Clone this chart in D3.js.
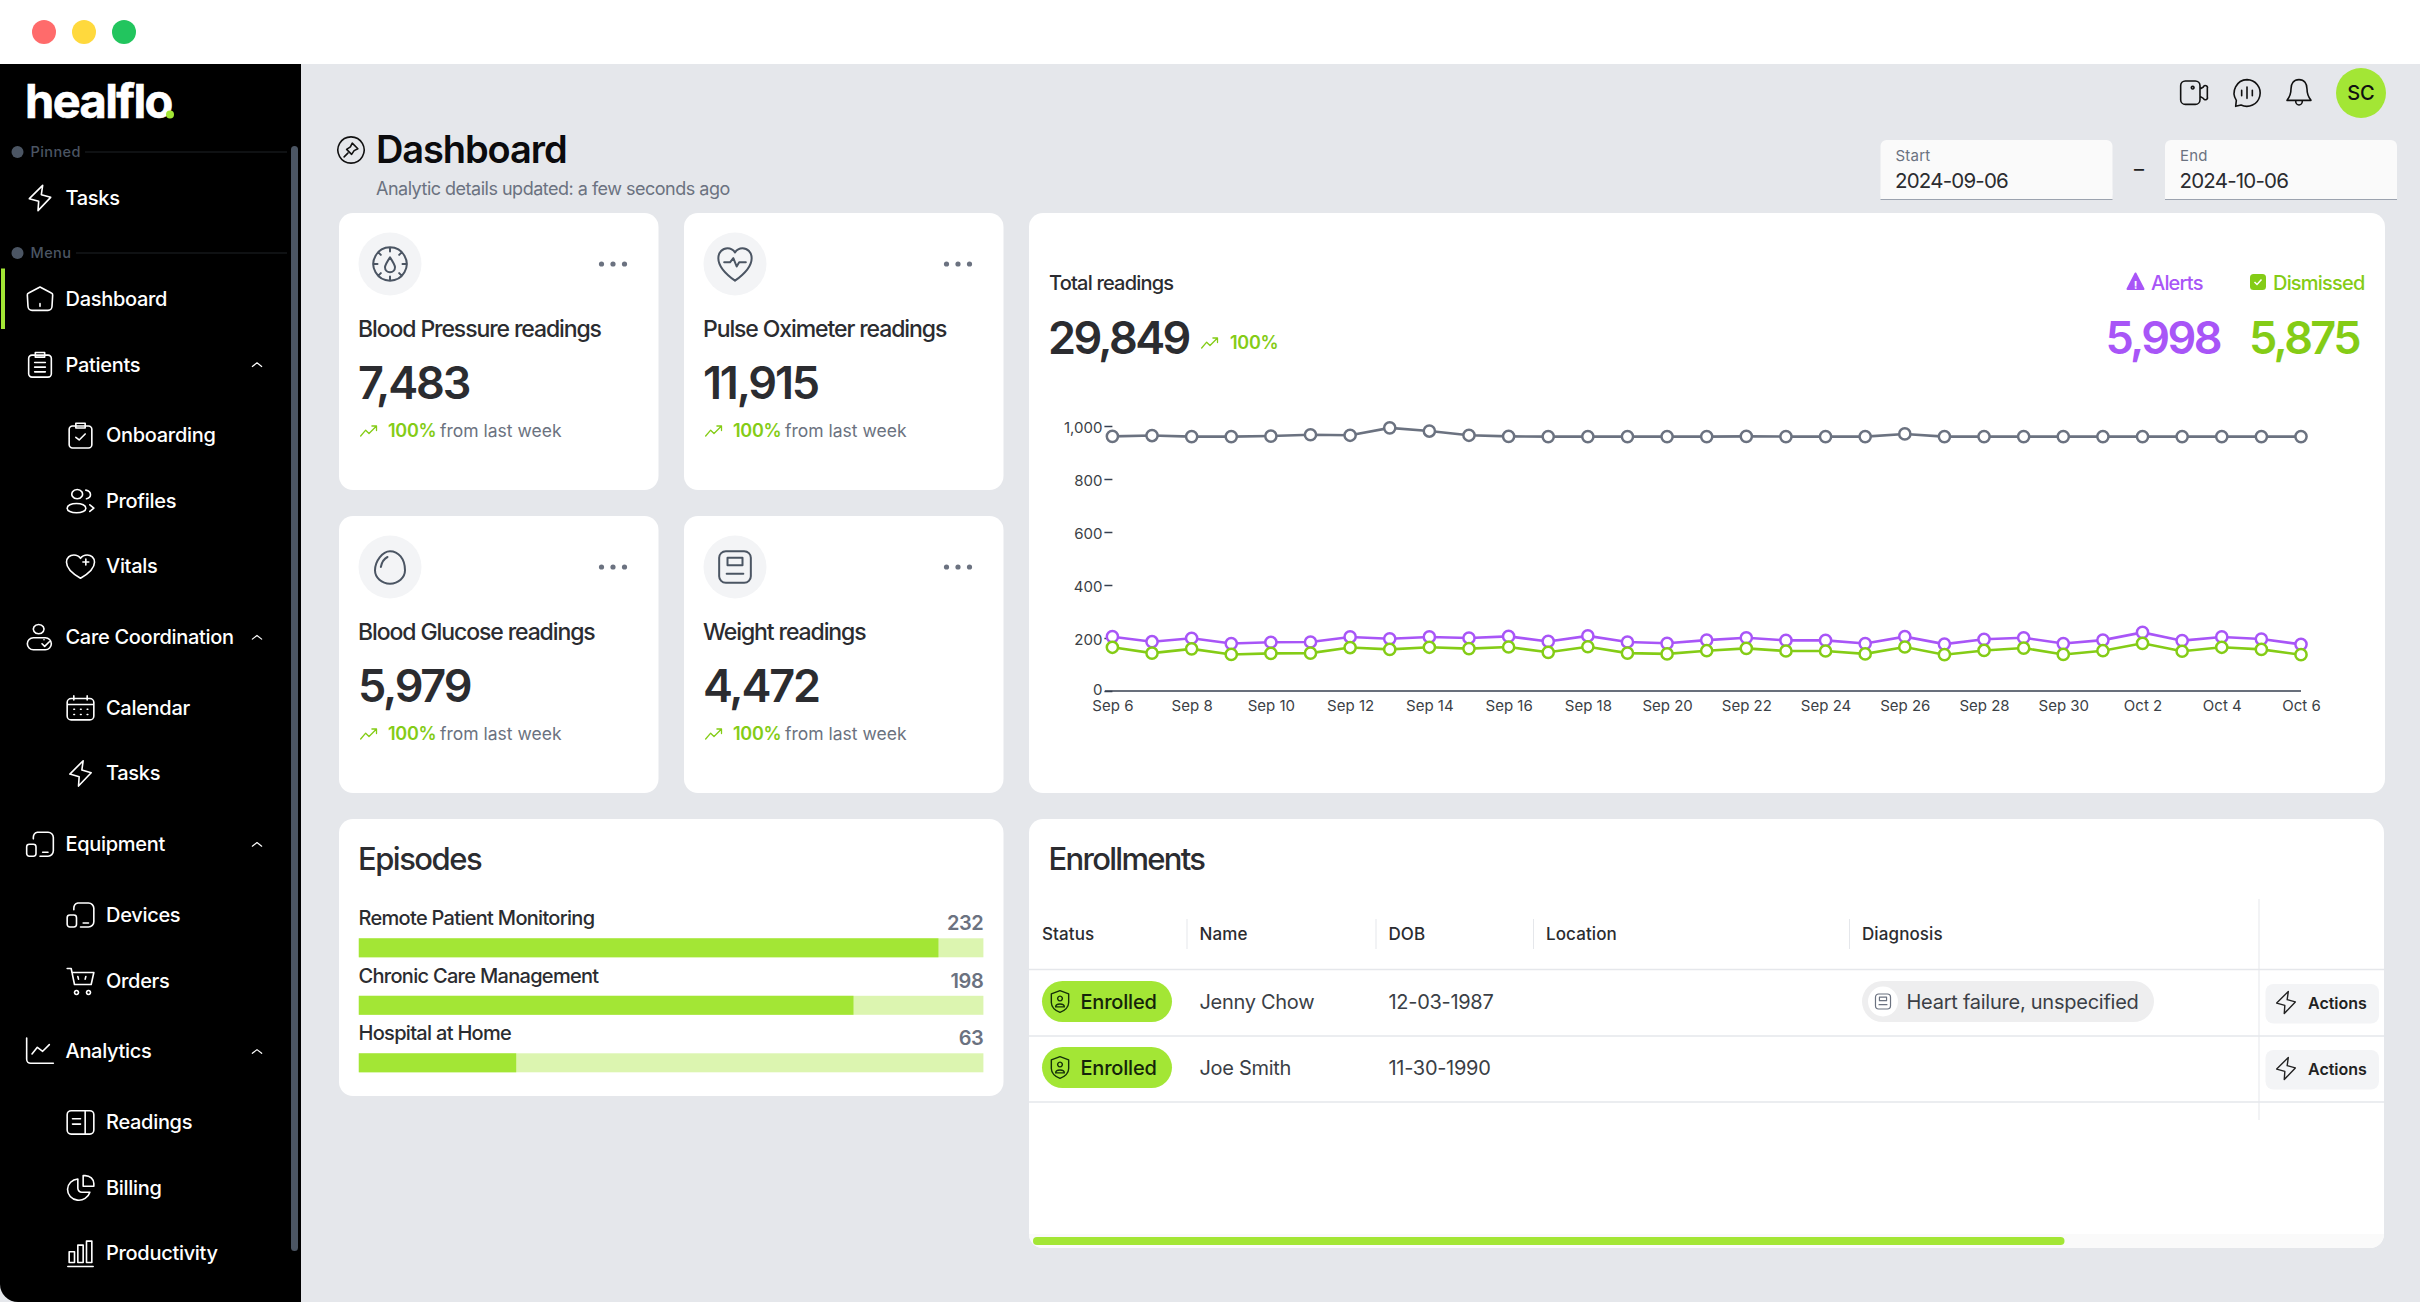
<!DOCTYPE html>
<html>
<head>
<meta charset="utf-8">
<title>healflo dashboard</title>
<script src="https://cdn.jsdelivr.net/npm/d3@7/dist/d3.min.js"></script>
<style>
    html, body { margin: 0; padding: 0; background: #fff; overflow: hidden; }
    svg { display: block; font-family: Inter, "Noto Sans", sans-serif; }
    .axis text { font-family: Inter, sans-serif; font-size: 15px; fill: #3b3f46; }
    .axis line, .axis path { stroke: #374151; stroke-width: 1.5; }
</style>
</head>
<body>
<div id="app"></div>
<script>
'use strict';

// chart values
const days = ['Sep 6', 'Sep 7', 'Sep 8', 'Sep 9', 'Sep 10', 'Sep 11', 'Sep 12', 'Sep 13', 'Sep 14', 'Sep 15', 'Sep 16',
    'Sep 17', 'Sep 18', 'Sep 19', 'Sep 20', 'Sep 21', 'Sep 22', 'Sep 23', 'Sep 24', 'Sep 25', 'Sep 26', 'Sep 27',
    'Sep 28', 'Sep 29', 'Sep 30', 'Oct 1', 'Oct 2', 'Oct 3', 'Oct 4', 'Oct 5', 'Oct 6'];
const totalSeries = [961, 964, 960, 960, 962, 967, 965, 993, 981, 965, 961, 960, 960, 960, 960, 960,
    961, 960, 960, 960, 970, 960, 960, 960, 960, 960, 960, 960, 960, 960, 960];
const alertSeries = [205, 186, 199, 179, 184, 185, 204, 197, 204, 200, 206, 187, 208, 185, 180, 192,
    201, 191, 191, 179, 205, 177, 195, 201, 179, 192, 221, 190, 204, 196, 176];
const dismissedSeries = [165, 143, 159, 138, 142, 143, 164, 157, 165, 160, 166, 146, 167, 143, 140, 152,
    161, 151, 151, 140, 166, 137, 153, 162, 138, 152, 180, 150, 165, 157, 137];
const yTicks = [0, 200, 400, 600, 800, 1000];

const cardTitles = ['Blood Pressure readings', 'Pulse Oximeter readings', 'Blood Glucose readings', 'Weight readings'];
const cardValues = ['7,483', '11,915', '5,979', '4,472'];
const cardIcons = ['gauge', 'pulse', 'drop', 'scale'];

const episodeNames = ['Remote Patient Monitoring', 'Chronic Care Management', 'Hospital at Home'];
const episodeValues = [232, 198, 63];

const tableHeads = ['Status', 'Name', 'DOB', 'Location', 'Diagnosis'];
const patientNames = ['Jenny Chow', 'Joe Smith'];
const patientDobs = ['12-03-1987', '11-30-1990'];
const patientDiagnoses = ['Heart failure, unspecified', ''];

const navLabels = ['Dashboard', 'Patients', 'Onboarding', 'Profiles', 'Vitals', 'Care Coordination', 'Calendar', 'Tasks',
    'Equipment', 'Devices', 'Orders', 'Analytics', 'Readings', 'Billing', 'Productivity'];
const navIcons = ['home', 'clip', 'clipCheck', 'people', 'heart', 'care', 'calendar', 'bolt',
    'device', 'device', 'cart', 'trend', 'book', 'pie', 'bars'];
const navDepths = [0, 0, 1, 1, 1, 0, 1, 1, 0, 1, 1, 0, 1, 1, 1];

const lime = '#a3e635';
const limeSoft = '#dcf5b0';
const green = '#84cc16';
const purple = '#a855f7';
const slate = '#6b7280';
const ink = '#2b2c30';

const icons = {
    bolt: 'M14 2.5 L13 9.5 L20 11.5 L10.5 21.5 L11 14.5 L4 12.5 Z',
    home: 'M12 3 L20.5 7.5 a1.5 1.5 0 0 1 1 1.5 L21 17.5 a3 3 0 0 1 -3 3 H6 a3 3 0 0 1 -3 -3 L2.5 9 a1.5 1.5 0 0 1 1 -1.5 Z M12 15.5 V17.5',
    clip: 'M6 5 H18 a2.5 2.5 0 0 1 2.5 2.5 V19 a2.5 2.5 0 0 1 -2.5 2.5 H6 A2.5 2.5 0 0 1 3.5 19 V7.5 A2.5 2.5 0 0 1 6 5 Z M8.5 3 H15.5 V6.5 H8.5 Z M8 10.5 H16 M8 14 H16 M8 17.5 H16',
    clipCheck: 'M6 5 H18 a2.5 2.5 0 0 1 2.5 2.5 V19 a2.5 2.5 0 0 1 -2.5 2.5 H6 A2.5 2.5 0 0 1 3.5 19 V7.5 A2.5 2.5 0 0 1 6 5 Z M8.5 3 H15.5 V6.5 H8.5 Z M8.5 13.5 L11 15.5 L15.5 11',
    people: 'M9.5 3.5 a4 3.5 0 1 0 0.01 0 Z M9 14 c-4 0 -7 1.5 -7 3.5 s3 3.5 7 3.5 s7 -1.5 7 -3.5 s-3 -3.5 -7 -3.5 Z M16 4 c2.5 0.5 3.5 2 3.5 3.5 s-1 2.5 -3 3 M19 15 l3 2.5 l-3 2.5',
    heart: 'M12 21 C5 17 1.5 13 1.5 9 C1.5 5.5 4 3.5 7 3.5 C9 3.5 11 4.5 12 6 C13 4.5 15 3.5 17 3.5 C20 3.5 22.5 5.5 22.5 9 C22.5 13 19 17 12 21 Z M16 6.5 V11 M13.8 8.8 H18.2',
    care: 'M11 2.5 a4 3.5 0 1 0 0.01 0 Z M7 12.5 H16 a4.5 4.5 0 0 1 0 9 H7 a4.5 4.5 0 0 1 0 -9 Z M15 14 l0 0 M13.5 17 l2 2 l3.5 -3.5',
    calendar: 'M5 5 H19 a3 3 0 0 1 3 3 V18 a3 3 0 0 1 -3 3 H5 a3 3 0 0 1 -3 -3 V8 a3 3 0 0 1 3 -3 Z M7 3 V6 M17 3 V6 M2 9.5 H22 M7 13 H7.5 M12 13 H12.5 M17 13 H17.5 M7 17 H7.5 M12 17 H12.5 M17 17 H17.5',
    device: 'M10 3 H18 a4 4 0 0 1 4 4 V17 a4 4 0 0 1 -4 4 H12 M7 8 V7 a4 4 0 0 1 3 -4 M4 12 H7 a2 2 0 0 1 2 2 V19 a2 2 0 0 1 -2 2 H4 a2 2 0 0 1 -2 -2 V14 a2 2 0 0 1 2 -2 Z M14 18 H18',
    cart: 'M2 3 H5 L7.5 15 H20 L22 6 H5.5 M10 9 L10.5 11 M16 9 L15.5 11 M9 19.5 a1.5 1.5 0 1 0 0.01 0 Z M18 19.5 a1.5 1.5 0 1 0 0.01 0 Z',
    trend: 'M2 2 V18 a3 3 0 0 0 3 3 H22 M6 14 L10 9 L14 12 L19 7',
    book: 'M5 3.5 H19 a3 3 0 0 1 3 3 V18 a3 3 0 0 1 -3 3 H5 a3 3 0 0 1 -3 -3 V6.5 a3 3 0 0 1 3 -3 Z M15.5 3.5 V21 M6 9.5 H12 M6 13.5 H12',
    pie: 'M10 5.5 a8.5 8 0 1 0 9 10 H13 a3 3 0 0 1 -3 -3 Z M14 3 h1.5 a6.5 6 0 0 1 6.5 6 v2 h-8 Z',
    bars: 'M3.5 11 H7.5 V19 H3.5 Z M10 6 H14 V19 H10 Z M16.5 3 H20.5 V19 H16.5 Z M2.5 22 H21.5',
    chevron: 'M5 15 L12 9.5 L19 15',
    gauge: 'M12 2 a10 10 0 1 0 0.01 0 Z M12 8 C10 11 9 12.5 9 14 a3 3 0 0 0 6 0 C15 12.5 14 11 12 8 Z M12 2 V4.5 M12 19.5 V22 M2 12 H4.5 M19.5 12 H22 M5 5 L6.5 6.5 M19 5 L17.5 6.5 M5 19 L6.5 17.5 M19 19 L17.5 17.5',
    pulse: 'M12 22 C5 17 2 13 2 8.5 C2 5 4.5 2.5 7.5 2.5 C9.5 2.5 11 3.5 12 5 C13 3.5 14.5 2.5 16.5 2.5 C19.5 2.5 22 5 22 8.5 C22 13 19 17 12 22 Z M5.5 11 H9 L11 8.5 L13 13.5 L14.5 11 H18.5',
    drop: 'M12 2.5 C7.5 2.5 3 8.5 3 14 a9 8 0 0 0 18 0 C21 7 17 2.5 12 2.5 Z M10.5 6 C8.5 7 7 9.5 6.5 12',
    scale: 'M6.5 2.5 H17.5 a4 4 0 0 1 4 4 V17.5 a4 4 0 0 1 -4 4 H6.5 a4 4 0 0 1 -4 -4 V6.5 a4 4 0 0 1 4 -4 Z M7.5 6.5 H16.5 V11 H7.5 Z M7 16 H17',
    up: 'M2 18 L8 11 L12 15 L21 6 M15.5 6 H21 V11.5',
    video: 'M5.5 3 H13 a3.5 3.5 0 0 1 3.5 3.5 V17 a3.5 3.5 0 0 1 -3.5 3.5 H5.5 A3.5 3.5 0 0 1 2 17 V6.5 A3.5 3.5 0 0 1 5.5 3 Z M16.5 9 L19 7.5 a1.5 1.5 0 0 1 3 1 V15 a1.5 1.5 0 0 1 -3 1 L16.5 14.5 M11 7 a1 1 0 1 0 0.01 0 Z',
    chat: 'M12 2 a10 10 0 1 1 -4.5 19 L3.5 22 L4 17.5 A10 10 0 0 1 12 2 Z M8 10 V14 M12 7.5 V16 M16 10 V14',
    bell: 'M12 2 C8 2 6 5 6 9 C6 13 5 15 3 17.5 H21 C19 15 18 13 18 9 C18 5 16 2 12 2 Z M9.5 18 a2.5 3 0 0 0 5 0',
    pin: 'M12 1.5 a10.5 10.5 0 1 0 0.01 0 Z M13 6.5 L17.5 11 L14.5 12.5 L12.5 15.5 L8.5 11.5 L11.5 9.5 Z M9.5 14.5 L6.5 17.5',
    shield: 'M12 2 L20 5 V13 C20 17 16.5 20.5 12 22 C7.5 20.5 4 17 4 13 V5 Z M12 7 a2.2 2.2 0 1 0 0.01 0 Z M8 17 C8 13.5 16 13.5 16 17 Z'
};

const svg = d3.select('#app').append('svg').attr('width', 2420).attr('height', 1302);

function label(group, str, x, y, size, weight, color, spacing, anchor) {
    return group.append('text')
        .attr('x', x).attr('y', y)
        .attr('font-size', size).attr('font-weight', weight)
        .attr('fill', color)
        .attr('letter-spacing', spacing || 0)
        .attr('text-anchor', anchor || 'start')
        .text(str);
}

function icon(group, name, cx, cy, size, color, width) {
    return group.append('path')
        .attr('d', icons[name])
        .attr('transform', `translate(${cx - size / 2},${cy - size / 2}) scale(${size / 24})`)
        .attr('fill', 'none')
        .attr('stroke', color)
        .attr('stroke-width', (width || 1.6) * 24 / size)
        .attr('stroke-linejoin', 'round')
        .attr('stroke-linecap', 'round');
}

function panel(x, y, w, h) {
    return svg.append('rect').attr('x', x).attr('y', y).attr('width', w).attr('height', h)
        .attr('rx', 14).attr('fill', '#fff');
}

function drawFrame() {
    svg.append('rect').attr('y', 64).attr('width', 2420).attr('height', 1238).attr('fill', '#e5e7eb');
    [['#ff6b6b', 44], ['#ffd93d', 84], ['#22c55e', 124]].forEach((dot) => {
        svg.append('circle').attr('cx', dot[1]).attr('cy', 32).attr('r', 12).attr('fill', dot[0]);
    });
}

function drawSidebar() {
    const side = svg.append('g');
    side.append('path').attr('d', 'M0 64 H301 V1302 H18 A18 18 0 0 1 0 1284 Z').attr('fill', '#000');
    side.append('rect').attr('x', 291).attr('y', 146).attr('width', 7).attr('height', 1105).attr('rx', 3.5).attr('fill', '#4b5563');

    const logo = label(side, 'healflo', 25, 118, 47, 700, '#fff', -1.6);
    side.append('circle').attr('cx', 170).attr('cy', 114.5).attr('r', 4).attr('fill', lime);
    logo.attr('stroke', '#fff').attr('stroke-width', 0.6);

    [['Pinned', 152, 85], ['Menu', 253, 76]].forEach((sec) => {
        side.append('circle').attr('cx', 17.5).attr('cy', sec[1]).attr('r', 6).attr('fill', '#4b5563');
        label(side, sec[0], 30.5, sec[1] + 5, 14.5, 500, '#4b5563', 0.4);
        side.append('line').attr('x1', sec[2]).attr('x2', 287).attr('y1', sec[1]).attr('y2', sec[1]).attr('stroke', '#1f2226');
    });

    icon(side, 'bolt', 40, 198, 32, '#fff');
    label(side, 'Tasks', 65.5, 205, 20, 500, '#fff', -0.3);

    side.append('rect').attr('x', 1).attr('y', 268.5).attr('width', 4).attr('height', 60.5).attr('fill', lime);

    let y = 299;
    navLabels.forEach((name, i) => {
        if (i > 0) {
            y += navDepths[i] !== navDepths[i - 1] ? 70.8 : 65.5;
        }
        const depth = navDepths[i];
        icon(side, navIcons[i], depth ? 80.5 : 40, y, 32, '#fff');
        label(side, name, depth ? 106 : 65.5, y + 7, 20, 500, '#fff', -0.3);
        // parents with children carry a chevron
        if (depth === 0 && navDepths[i + 1] === 1) {
            icon(side, 'chevron', 257, y, 16, '#fff', 1.2);
        }
    });
}

function drawHeader() {
    const head = svg.append('g');
    icon(head, 'pin', 351, 150, 30, '#111', 1.6);
    label(head, 'Dashboard', 376, 163, 38, 600, '#0b0b0d', -1.1);
    label(head, 'Analytic details updated: a few seconds ago', 376, 194.5, 18, 400, slate, -0.5);

    icon(head, 'video', 2194, 93, 32, '#111', 1.6);
    icon(head, 'chat', 2247, 93, 32, '#111', 1.6);
    icon(head, 'bell', 2299, 93, 32, '#111', 1.6);
    head.append('circle').attr('cx', 2361).attr('cy', 93).attr('r', 25).attr('fill', lime);
    label(head, 'SC', 2361, 100, 20, 500, '#111', 0, 'middle');

    [['Start', '2024-09-06', 1880.5], ['End', '2024-10-06', 2165]].forEach((box) => {
        head.append('rect').attr('x', box[2]).attr('y', 140).attr('width', 232).attr('height', 60).attr('rx', 6).attr('fill', '#fafafa');
        head.append('rect').attr('x', box[2]).attr('y', 190).attr('width', 232).attr('height', 9).attr('fill', '#fafafa');
        head.append('line').attr('x1', box[2]).attr('x2', box[2] + 232).attr('y1', 199.5).attr('y2', 199.5).attr('stroke', '#9ca3af');
        label(head, box[0], box[2] + 15, 161, 15, 400, slate, 0.2);
        label(head, box[1], box[2] + 14.5, 187.5, 20.5, 400, ink, -0.8);
    });
    label(head, '–', 2139, 176, 20, 400, '#222', 0, 'middle');
}

function drawCards() {
    const pad = 19;
    const cardW = 319.5;
    const cardH = 277;
    cardTitles.forEach((title, i) => {
        const x = i % 2 ? 684 : 339;
        const y = i < 2 ? 213 : 516;
        panel(x, y, cardW, cardH);
        const g = svg.append('g');
        g.append('circle').attr('cx', x + 51).attr('cy', y + 51).attr('r', 31.5).attr('fill', '#f3f4f6');
        icon(g, cardIcons[i], x + 51, y + 51, 40, '#4b5563', 2);
        [-11.5, 0, 11.5].forEach((d) => {
            g.append('circle').attr('cx', x + 274 + d).attr('cy', y + 51).attr('r', 2.6).attr('fill', slate);
        });
        label(g, title, x + pad, y + 124, 23, 500, ink, -1.1);
        label(g, cardValues[i], x + pad, y + 186, 45, 600, ink, -2.2);
        icon(g, 'up', x + 30, y + 218, 20, green, 1.3);
        label(g, '100%', x + 49, y + 223.5, 18, 600, green, -0.3);
        label(g, 'from last week', x + 101, y + 223.5, 17.5, 400, slate, 0);
    });
}

function drawReadings() {
    panel(1029, 213, 1356, 580);
    const g = svg.append('g');

    label(g, 'Total readings', 1049, 289.5, 20, 500, ink, -0.8);
    label(g, '29,849', 1048, 354, 45, 600, ink, -2.6);
    icon(g, 'up', 1210, 343, 20, green, 1.3);
    label(g, '100%', 1230, 349, 18, 600, green, -0.3);

    g.append('path').attr('d', 'M2135.5 273.5 L2143.5 289 H2127.5 Z').attr('fill', purple).attr('stroke', purple).attr('stroke-width', 2).attr('stroke-linejoin', 'round');
    label(g, '!', 2135.5, 288.5, 11, 700, '#fff', 0, 'middle');
    label(g, 'Alerts', 2151, 289.5, 20, 500, purple, -0.8);
    g.append('rect').attr('x', 2250).attr('y', 274).attr('width', 16).attr('height', 16).attr('rx', 3.5).attr('fill', green);
    g.append('path').attr('d', 'M2254.5 282 L2257 284.5 L2261.5 279.5').attr('fill', 'none').attr('stroke', '#fff').attr('stroke-width', 1.5);
    label(g, 'Dismissed', 2273, 289.5, 20, 500, green, -0.8);

    label(g, '5,998', 2105.5, 354, 45, 600, purple, -2.6);
    label(g, '5,875', 2249, 354, 45, 600, green, -2.6);

    const x = d3.scalePoint().domain(days).range([1112.4, 2301]);
    const y = d3.scaleLinear().domain([0, 1000]).range([691, 426]);

    g.append('g').attr('class', 'axis').attr('transform', 'translate(1112.4,0)')
        .call(d3.axisLeft(y).tickValues(yTicks).tickSize(8).tickPadding(2).tickFormat(d3.format(',')))
        .call((a) => a.select('.domain').remove())
        // the 0 label sits right on top of the first date label, so it keeps the default offset
        .call((a) => a.selectAll('text').attr('dy', (d) => (d === 0 ? '0.2em' : '0.42em')));

    g.append('g').attr('class', 'axis').attr('transform', 'translate(0,691)')
        .call(d3.axisBottom(x).tickValues(days.filter((d, i) => i % 2 === 0)).tickSize(0).tickPadding(9))
        .call((a) => a.select('.domain').attr('d', 'M1105,0H2301'));

    const line = d3.line().x((d, i) => x(days[i])).y((d) => y(d));
    [[totalSeries, slate], [alertSeries, purple], [dismissedSeries, green]].forEach((s) => {
        g.append('path').datum(s[0]).attr('d', line).attr('fill', 'none').attr('stroke', s[1]).attr('stroke-width', 2.6);
        g.append('g').selectAll('circle').data(s[0]).join('circle')
            .attr('cx', (d, i) => x(days[i])).attr('cy', (d) => y(d)).attr('r', 5.6)
            .attr('fill', '#fff').attr('stroke', s[1]).attr('stroke-width', 2.5);
    });
}

function drawEpisodes() {
    panel(339, 819, 664.5, 277);
    const g = svg.append('g');
    label(g, 'Episodes', 358, 870, 31, 500, ink, -1.5);

    const w = d3.scaleLinear().domain([0, 250]).range([0, 624.6]);
    const row = d3.scaleBand().domain(episodeNames).range([925, 1097.5]);
    episodeNames.forEach((name, i) => {
        const top = row(name);
        label(g, name, 358.5, top, 20, 500, ink, -0.7);
        label(g, episodeValues[i], 983.4, top + 5, 20, 600, slate, -0.4, 'end');
        g.append('rect').attr('x', 358.8).attr('y', top + 13.3).attr('width', w.range()[1]).attr('height', 19).attr('fill', limeSoft);
        g.append('rect').attr('x', 358.8).attr('y', top + 13.3).attr('width', w(episodeValues[i])).attr('height', 19).attr('fill', lime);
    });
}

function drawEnrollments() {
    panel(1029, 819, 1355, 429);
    const g = svg.append('g');
    label(g, 'Enrollments', 1048.5, 870, 31, 500, ink, -1.7);

    const colX = [1042, 1199.5, 1388.5, 1546, 1862];
    tableHeads.forEach((head, i) => {
        label(g, head, colX[i], 940, 17, 500, ink, 0.1);
        if (i > 0) {
            g.append('line').attr('x1', colX[i] - 12.5).attr('x2', colX[i] - 12.5).attr('y1', 919).attr('y2', 949).attr('stroke', '#e5e7eb');
        }
    });
    g.append('line').attr('x1', 2259).attr('x2', 2259).attr('y1', 899).attr('y2', 1120).attr('stroke', '#e5e7eb');
    [969.5, 1036, 1102].forEach((ry) => {
        g.append('line').attr('x1', 1029).attr('x2', 2384).attr('y1', ry).attr('y2', ry).attr('stroke', '#e5e7eb').attr('stroke-width', 1.5);
    });

    patientNames.forEach((name, i) => {
        const top = 981 + i * 66;
        g.append('rect').attr('x', 1042).attr('y', top).attr('width', 130).attr('height', 41).attr('rx', 20.5).attr('fill', lime);
        icon(g, 'shield', 1060, top + 20.5, 26, '#14300a', 1.4);
        label(g, 'Enrolled', 1080.5, top + 27.5, 20, 500, '#14230a', -0.2);
        label(g, name, 1199.5, top + 27.5, 20, 400, '#3b3f46', -0.3);
        label(g, patientDobs[i], 1388.5, top + 27.5, 20, 400, '#3b3f46', -0.3);
        if (patientDiagnoses[i]) {
            g.append('rect').attr('x', 1862).attr('y', top).attr('width', 292).attr('height', 41).attr('rx', 20.5).attr('fill', '#eeeeef');
            g.append('circle').attr('cx', 1883).attr('cy', top + 20.5).attr('r', 15).attr('fill', '#fff');
            icon(g, 'scale', 1883, top + 20.5, 19, '#6b7280', 1.2);
            label(g, patientDiagnoses[i], 1906.5, top + 27.5, 20, 400, '#3b3f46', -0.25);
        }
        g.append('rect').attr('x', 2265.5).attr('y', top + 3).attr('width', 113.5).attr('height', 39.5).attr('rx', 8).attr('fill', '#f3f4f6');
        icon(g, 'bolt', 2286, top + 21.5, 28, '#222', 1.4);
        label(g, 'Actions', 2308, top + 28, 16, 600, '#222', 0);
    });

    g.append('path').attr('d', 'M1029 1234 H2384 A14 14 0 0 1 2370 1248 H1043 A14 14 0 0 1 1029 1234 Z').attr('fill', '#fafafa');
    g.append('rect').attr('x', 1033).attr('y', 1237).attr('width', 1031.5).attr('height', 8).attr('rx', 4).attr('fill', lime);
}

drawFrame();
drawSidebar();
drawHeader();
drawCards();
drawReadings();
drawEpisodes();
drawEnrollments();
</script>
</body>
</html>
